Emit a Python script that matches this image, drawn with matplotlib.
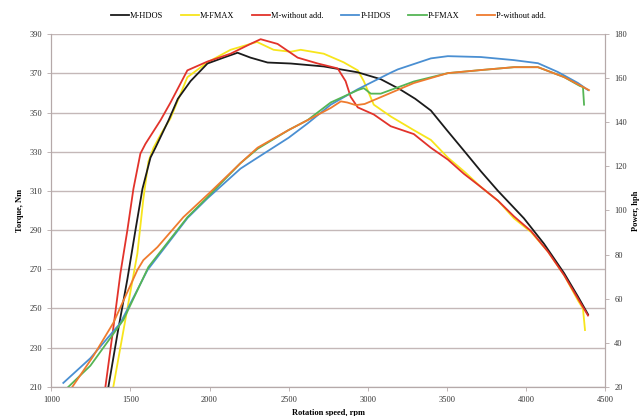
import matplotlib
matplotlib.use("Agg")
import matplotlib.pyplot as plt

plt.rcParams['font.family'] = ['Liberation Serif', 'DejaVu Serif']

# ---- Torque series (left axis, Nm) ----
m_hdos_rpm = [1361, 1418, 1481, 1532, 1576, 1627, 1658, 1741, 1800, 1880, 1987, 2089, 2177, 2259,
              2367, 2513, 2722, 2937, 3082, 3200, 3300, 3399, 3500, 3608, 3715, 3823, 3987, 4114,
              4241, 4329, 4392]
m_hdos_t = [210, 237, 265, 290, 311, 327, 332, 346, 357, 366, 375, 378, 380.5, 378,
            375.5, 375, 373.5, 370.5, 367, 362, 357, 351, 341, 330.5, 320, 310, 296, 283,
            268, 256, 247]

m_fmax_rpm = [1392, 1481, 1544, 1582, 1614, 1646, 1700, 1753, 1860, 1987, 2133, 2259, 2300, 2405,
              2513, 2576, 2722, 2848, 2937, 2975, 3038, 3145, 3291, 3399, 3506, 3608, 3715, 3823,
              3924, 4032, 4139, 4241, 4329, 4360, 4373]
m_fmax_t = [210, 250, 278, 306, 325, 332, 340, 347, 368, 375.6, 382, 385, 386, 382,
            381, 382, 380, 375.6, 371.5, 366, 354, 348, 341, 336, 327, 320, 312, 305,
            296, 289, 279, 267, 254, 250, 239]

m_wo_rpm = [1342, 1392, 1437, 1481, 1519, 1563, 1595, 1690, 1753, 1860, 1987, 2133, 2259, 2323,
            2430, 2557, 2684, 2810, 2860, 2892, 2937, 3038, 3145, 3291, 3399, 3506, 3608, 3715,
            3823, 3924, 4032, 4139, 4241, 4329, 4392]
m_wo_t = [210, 240, 268, 290, 311, 329, 334, 346, 355, 371.5, 376, 380, 385, 387.4,
          385, 378, 375, 372.5, 366, 358, 352.6, 349, 343, 339, 332, 326, 318.7, 312,
          305, 297, 289.5, 279, 267, 255, 246.4]

# ---- Power series (right axis, hph) ----
p_hdos_rpm = [1076, 1247, 1437, 1608, 1861, 1987, 2196, 2304, 2500, 2620, 2766, 2937, 3145, 3190,
              3399, 3506, 3715, 3924, 4076, 4202, 4329, 4392]
p_hdos_p = [21.8, 33, 49, 73, 96.6, 105.5, 119, 124, 133, 139.5, 148, 155, 162.5, 164,
            169, 170, 169.6, 168.2, 166.8, 162.8, 157.8, 154.6]

p_fmax_rpm = [1108, 1247, 1456, 1614, 1861, 1987, 2196, 2304, 2500, 2620, 2766, 2937, 2975, 3019,
              3082, 3291, 3506, 3715, 3924, 4076, 4241, 4340, 4360, 4367]
p_fmax_p = [20, 29.6, 50.4, 74.4, 97, 106, 121.5, 128, 136.5, 141, 149, 154.6, 155.5, 153,
            153, 158.5, 162.3, 163.7, 165, 165, 160.5, 156.5, 156, 148]

p_wo_rpm = [1133, 1266, 1392, 1544, 1582, 1671, 1835, 2006, 2196, 2304, 2500, 2620, 2766, 2830,
            2870, 2924, 2980, 3082, 3291, 3506, 3715, 3924, 4076, 4241, 4398]
p_wo_p = [20, 34, 49, 73, 77.5, 83.4, 97, 108.4, 121.5, 128.5, 136.5, 141, 146.5, 149.5,
          149, 147.8, 148.3, 151.4, 157.8, 162.3, 163.7, 165, 165, 160.5, 154.6]

x_ticks = [1000, 1500, 2000, 2500, 3000, 3500, 4000, 4500]
torque_ticks = [210, 230, 250, 270, 290, 310, 330, 350, 370, 390]
power_ticks = [20, 40, 60, 80, 100, 120, 140, 160, 180]

C_BLACK = '#1b1b1b'
C_YELLOW = '#f7e51c'
C_RED = '#e2332b'
C_BLUE = '#4a8fd2'
C_GREEN = '#55b555'
C_ORANGE = '#ef7b2e'
GRID = '#c4b8b8'
SPINE = '#b5a9a9'

fig = plt.figure(figsize=(6.41, 4.16), dpi=100)
ax = fig.add_axes([0.080, 0.070, 0.864, 0.848])
ax2 = ax.twinx()

lw = 1.3
l1, = ax.plot(m_hdos_rpm, m_hdos_t, color=C_BLACK, lw=lw, label='M-HDOS', zorder=5)
l2, = ax.plot(m_fmax_rpm, m_fmax_t, color=C_YELLOW, lw=lw, label='M-FMAX', zorder=4)
l3, = ax.plot(m_wo_rpm, m_wo_t, color=C_RED, lw=lw, label='M-without add.', zorder=6)
l4, = ax2.plot(p_hdos_rpm, p_hdos_p, color=C_BLUE, lw=lw, label='P-HDOS')
l5, = ax2.plot(p_fmax_rpm, p_fmax_p, color=C_GREEN, lw=lw, label='P-FMAX')
l6, = ax2.plot(p_wo_rpm, p_wo_p, color=C_ORANGE, lw=lw, label='P-without add.')

ax.set_xlim(1000, 4500)
ax.set_ylim(210, 390)
ax2.set_ylim(20, 180)
ax.set_xticks(x_ticks)
ax.set_yticks(torque_ticks)
ax2.set_yticks(power_ticks)

ax.grid(axis='y', color=GRID, lw=1.0)
ax.set_axisbelow(True)

for a in (ax, ax2):
    for s in a.spines.values():
        s.set_color(SPINE)
        s.set_linewidth(0.8)
    a.tick_params(labelsize=6, colors='#333333', length=3, width=0.6)
    a.tick_params(color=SPINE)
ax2.spines['top'].set_visible(False)
ax.spines['top'].set_visible(False)

ax.set_xlabel('Rotation speed, rpm', fontsize=6, fontweight='bold', labelpad=4)
ax.set_ylabel('Torque, Nm', fontsize=6, fontweight='bold', labelpad=4)
ax2.set_ylabel('Power, hph', fontsize=6, fontweight='bold', labelpad=4)

fig.legend(handles=[l1, l2, l3, l4, l5, l6], loc='center', bbox_to_anchor=(0.512, 0.962),
           ncol=6, frameon=False, fontsize=6, handlelength=2.2, handletextpad=0.1,
           columnspacing=2.1)

fig.savefig('out.png', dpi=100)
